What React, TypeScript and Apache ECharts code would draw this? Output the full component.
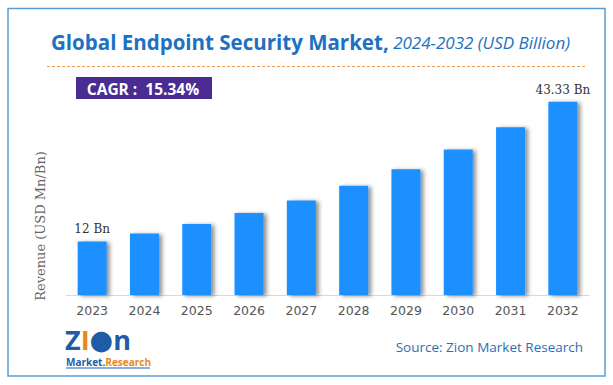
import React, { useEffect, useRef } from "react";
import * as echarts from "echarts";

const categories = ["2023", "2024", "2025", "2026", "2027", "2028", "2029", "2030", "2031", "2032"];
const revenue = [12, 13.8, 15.9, 18.4, 21.2, 24.5, 28.2, 32.6, 37.6, 43.33];
const labelled: Record<number, string> = { 0: "12 Bn", 9: "43.33 Bn" };
const titleMain = "Global Endpoint Security Market,";
const titleSub = " 2024-2032 (USD Billion)";
const cagrText = "CAGR :  15.34%";
const yAxisName = "Revenue (USD Mn/Bn)";
const sourceText = "Source: Zion Market Research";

export default function App() {
  const ref = useRef<HTMLDivElement>(null);
  useEffect(() => {
    if (!ref.current) return;
    const chart = echarts.init(ref.current, undefined, { renderer: "svg" });
    chart.setOption({
      animation: false,
      backgroundColor: "#ffffff",
      grid: { left: 66, right: 24, top: 72, bottom: 90 },
      xAxis: {
        type: "category",
        data: categories,
        axisLine: { lineStyle: { color: "#d9d9d9", width: 1 } },
        axisTick: { show: false },
        axisLabel: { color: "#555", fontSize: 12.5, fontFamily: "DejaVu Sans", margin: 9 },
      },
      yAxis: {
        type: "value",
        min: 0,
        max: 50,
        show: false,
        splitLine: { show: false },
      },
      series: [
        {
          type: "bar",
          data: revenue.map((v, i) => ({
            value: v,
            label: {
              show: labelled[i] !== undefined,
              position: "top",
              distance: 6,
              formatter: () => labelled[i] ?? "",
              color: "#333",
              fontSize: 12,
              fontFamily: "DejaVu Serif",
            },
          })),
          barWidth: 29,
          itemStyle: {
            color: "#1E90FF",
            shadowColor: "rgba(0,0,0,0.45)",
            shadowBlur: 4,
            shadowOffsetX: 3,
            shadowOffsetY: 1,
          },
        },
      ],
      graphic: [
        {
          type: "rect",
          shape: { x: 8, y: 8.5, width: 597, height: 367.5 },
          style: { fill: "none", stroke: "#5B9BD5", lineWidth: 1.5 },
          silent: true,
        },
        {
          type: "text",
          x: 51,
          y: 42,
          style: {
            text: `{a|${titleMain}}{b|${titleSub}}`,
            verticalAlign: "middle",
            rich: {
              a: { fontSize: 20.5, fontWeight: "bold", fill: "#1C71C2", fontFamily: "Open Sans" },
              b: { fontSize: 17, fontStyle: "italic", fill: "#1C71C2", fontFamily: "Open Sans" },
            },
          },
        },
        {
          type: "line",
          shape: { x1: 47, y1: 66.5, x2: 585, y2: 66.5 },
          style: { stroke: "#F39B52", lineWidth: 1, lineDash: [3, 2] },
        },
        {
          type: "rect",
          shape: { x: 76, y: 77, width: 136, height: 22 },
          style: { fill: "#4A2C92" },
        },
        {
          type: "text",
          x: 143,
          y: 88.5,
          style: {
            text: cagrText,
            align: "center",
            verticalAlign: "middle",
            fill: "#ffffff",
            fontSize: 15.5,
            fontWeight: "bold",
            fontFamily: "Open Sans",
          },
        },
        {
          type: "text",
          x: 40,
          y: 226,
          rotation: Math.PI / 2,
          style: {
            text: yAxisName,
            align: "center",
            verticalAlign: "middle",
            fill: "#666",
            fontSize: 13,
            fontFamily: "DejaVu Serif",
          },
        },
        {
          type: "text",
          x: 583,
          y: 347,
          style: {
            text: sourceText,
            align: "right",
            verticalAlign: "middle",
            fill: "#2E6DB4",
            fontSize: 13.5,
            fontFamily: "Open Sans",
          },
        },
        {
          type: "text",
          x: 65,
          y: 339,
          style: {
            text: "{z|Z}{i|I}{o|●}{n|n}",
            verticalAlign: "middle",
            rich: {
              z: { fontSize: 27, lineHeight: 24, fontWeight: "bold", fill: "#1F5CA8", fontFamily: "Open Sans" },
              i: { fontSize: 27, lineHeight: 24, fontWeight: "bold", fill: "#E8871E", fontFamily: "Open Sans" },
              o: { fontSize: 27, lineHeight: 24, fill: "#1F5CA8", fontFamily: "DejaVu Sans" },
              n: { fontSize: 27, lineHeight: 24, fontWeight: "bold", fill: "#1F5CA8", fontFamily: "Open Sans" },
            },
          },
        },
        {
          type: "text",
          x: 66,
          y: 362,
          style: {
            text: "{m|Market.}{r|Research}",
            verticalAlign: "middle",
            rich: {
              m: { fontSize: 10, lineHeight: 10, fontWeight: "bold", fill: "#1F5CA8", fontFamily: "Open Sans" },
              r: { fontSize: 10, lineHeight: 10, fontWeight: "bold", fill: "#E8871E", fontFamily: "Open Sans" },
            },
          },
        },
        {
          type: "line",
          shape: { x1: 66, y1: 368, x2: 150, y2: 368 },
          style: { stroke: "#1F5CA8", lineWidth: 1 },
        },
      ],
    });
    return () => chart.dispose();
  }, []);
  return (
    <div
      ref={ref}
      style={{ position: "fixed", left: 0, top: 0, width: 613, height: 385 }}
    />
  );
}
